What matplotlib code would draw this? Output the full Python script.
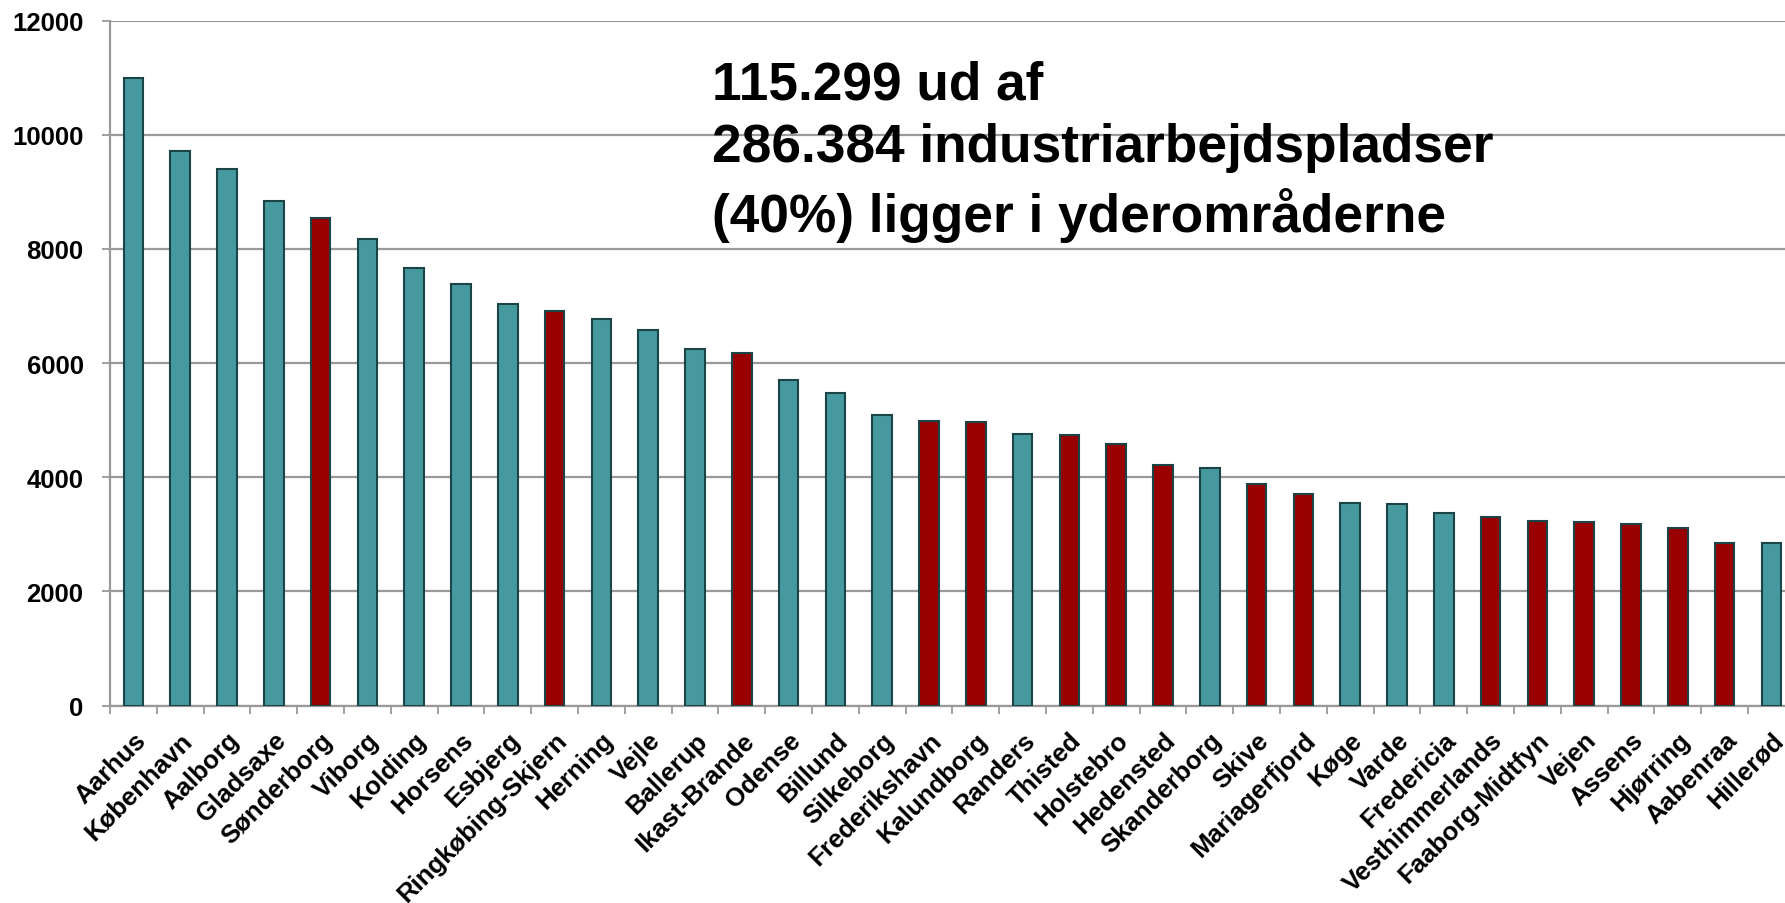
import matplotlib
matplotlib.use("Agg")
import matplotlib.pyplot as plt
import matplotlib.transforms as mtransforms
import numpy as np

plt.rcParams['font.family'] = ['Liberation Sans', 'DejaVu Sans']

municipalities = ["Aarhus", "København", "Aalborg", "Gladsaxe", "Sønderborg", "Viborg",
                  "Kolding", "Horsens", "Esbjerg", "Ringkøbing-Skjern", "Herning", "Vejle",
                  "Ballerup", "Ikast-Brande", "Odense", "Billund", "Silkeborg", "Frederikshavn",
                  "Kalundborg", "Randers", "Thisted", "Holstebro", "Hedensted", "Skanderborg",
                  "Skive", "Mariagerfjord", "Køge", "Varde", "Fredericia", "Vesthimmerlands",
                  "Faaborg-Midtfyn", "Vejen", "Assens", "Hjørring", "Aabenraa", "Hillerød"]
jobs = [10990, 9720, 9400, 8840, 8550, 8180,
        7658, 7390, 7038, 6909, 6768, 6588,
        6249, 6179, 5705, 5482, 5096, 4979,
        4961, 4763, 4746, 4582, 4214, 4154,
        3880, 3711, 3545, 3523, 3377, 3295,
        3231, 3219, 3184, 3119, 2856, 2839]
outer_area = [0, 0, 0, 0, 1, 0,
              0, 0, 0, 1, 0, 0,
              0, 1, 0, 0, 0, 1,
              1, 0, 1, 1, 1, 0,
              1, 1, 0, 0, 0, 1,
              1, 1, 1, 1, 1, 0]
yticks = [0, 2000, 4000, 6000, 8000, 10000, 12000]
annotation = "115.299 ud af\n286.384 industriarbejdspladser\n(40%) ligger i yderområderne"

TEAL = "#4799A0"
RED = "#990000"
EDGE = "#1B4446"
GRID = "#999999"

W, H = 1785, 904
fig = plt.figure(figsize=(W / 100, H / 100), dpi=100)
ax_left = 110 / W
ax_bottom = 1 - 706.5 / H
ax_w = 36 * 46.8 / W
ax_h = (706.5 - 21.7) / H
ax = fig.add_axes([ax_left, ax_bottom, ax_w, ax_h])

x = np.arange(len(municipalities))
colors = [RED if o else TEAL for o in outer_area]
ax.bar(x, jobs, width=0.42, color=colors, edgecolor=EDGE, linewidth=1.5, zorder=3)

ax.set_xlim(-0.5, len(municipalities) - 0.5)
ax.set_ylim(0, 12000)
ax.set_yticks(yticks)
ax.set_yticklabels([str(v) for v in yticks], fontsize=18.5, fontweight='bold')
ax.yaxis.grid(True, color=GRID, linewidth=1.6, zorder=0)
ax.set_axisbelow(True)

ax.set_xticks(x)
ax.set_xticklabels(municipalities, rotation=45, ha='right', va='top',
                   rotation_mode='anchor', fontsize=18.5, fontweight='bold')
shift = mtransforms.ScaledTranslation(-6 / 100, 0, fig.dpi_scale_trans)
for lab in ax.get_xticklabels():
    lab.set_transform(lab.get_transform() + shift)
ax.set_xticks(np.arange(len(municipalities) + 1) - 0.5, minor=True)
ax.tick_params(axis='x', which='major', length=0, pad=16)
ax.tick_params(axis='x', which='minor', length=6, width=1.3, color=GRID)
ax.tick_params(axis='y', which='major', length=6, width=1.3, color=GRID, pad=13)

for s in ['top', 'right']:
    ax.spines[s].set_visible(False)
for s in ['left', 'bottom']:
    ax.spines[s].set_color(GRID)
    ax.spines[s].set_linewidth(1.6)

fig.text(712 / W, 1 - 60 / H, annotation, fontsize=38.3, fontweight='bold',
         ha='left', va='top', linespacing=1.335, color='black')

fig.savefig("out.png", dpi=100, facecolor='white')
